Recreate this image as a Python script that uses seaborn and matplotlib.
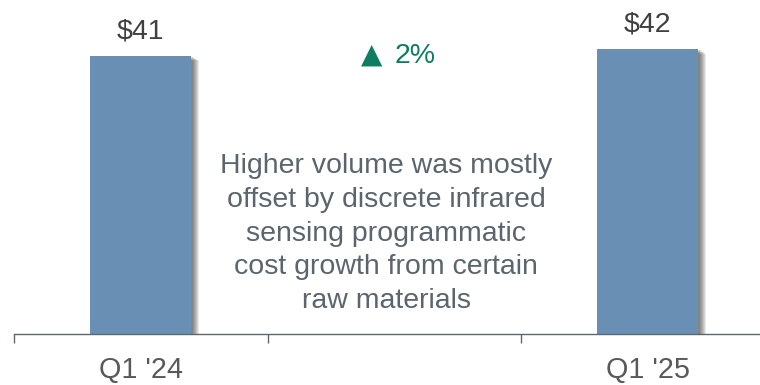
import numpy as np
import pandas as pd
import matplotlib
matplotlib.use("Agg")
import matplotlib.pyplot as plt
import matplotlib.patheffects as pe
import seaborn as sns

# ---- data ----
categories = ["Q1 '24", "Q1 '25"]
values = [41, 42]
value_labels = ["$41", "$42"]
slot_order = ["Q1 '24", "", "Q1 '25"]
change_arrow = "\u25B2"
change_label = "2%"
note_lines = [
    "Higher volume was mostly",
    "offset by discrete infrared",
    "sensing programmatic",
    "cost growth from certain",
    "raw materials",
]

sns.set_theme(style="white")
plt.rcParams["font.family"] = ["Liberation Sans", "DejaVu Sans"]

BAR = "#6990b4"
AXIS = "#5d666e"
VAL = "#404040"
TICK = "#595959"
NOTE = "#5b656d"
GREEN = "#0f7d5f"

W, H = 760, 385
fig = plt.figure(figsize=(W / 100, H / 100), dpi=100)
ax = fig.add_axes([14 / W, 51 / H, 746 / W, 334 / H])

df = pd.DataFrame({"cat": categories, "val": values})
sns.barplot(data=df, x="cat", y="val", order=slot_order, width=0.40,
            color=BAR, saturation=1, ax=ax, errorbar=None)

shadow = [pe.SimplePatchShadow(offset=(0.8 * k, -0.45 * k), shadow_rgbFace="black", alpha=0.085)
          for k in range(1, 8)]
for p in ax.patches:
    p.set_edgecolor("none")
    p.set_path_effects(shadow + [pe.Normal()])

ax.set_xticks([0, 2])
ax.set_xticklabels(["Q1 '24", "Q1 '25"])
ax.set_xticks([-0.5, 0.5, 1.5], minor=True)
ax.tick_params(axis="x", which="major", length=0, pad=16, labelsize=20.7, labelcolor=TICK)
ax.tick_params(axis="x", which="minor", length=6.5, width=1, color=AXIS, direction="out", bottom=True)
ax.set_yticks([])
ax.set_xlabel("")
ax.set_ylabel("")
ax.set_xlim(-0.5, -0.5 + 746 / 253.5)
ax.set_ylim(0, 49.26)

for p, lab in zip([p for p in ax.patches if np.isfinite(p.get_height())], value_labels):
    ax.annotate(lab, (p.get_x() + p.get_width() / 2, p.get_height()),
                xytext=(0, 12.5), textcoords="offset points", ha="center", va="baseline",
                fontsize=20.5, color=VAL)

for s in ["top", "right", "left"]:
    ax.spines[s].set_visible(False)
ax.spines["bottom"].set_color(AXIS)
ax.spines["bottom"].set_linewidth(1.0)

fig.text(372 / W, 1 - 63 / H, change_arrow, ha="center", va="baseline",
         fontsize=20, color=GREEN, family=["DejaVu Sans"])
fig.text(395 / W, 1 - 63 / H, change_label, ha="left", va="baseline",
         fontsize=20.5, color=GREEN)

for i, line in enumerate(note_lines):
    fig.text(386 / W, 1 - (173 + 33.75 * i) / H, line, ha="center", va="baseline",
             fontsize=20.5, color=NOTE)

fig.savefig("out.png", dpi=100)
